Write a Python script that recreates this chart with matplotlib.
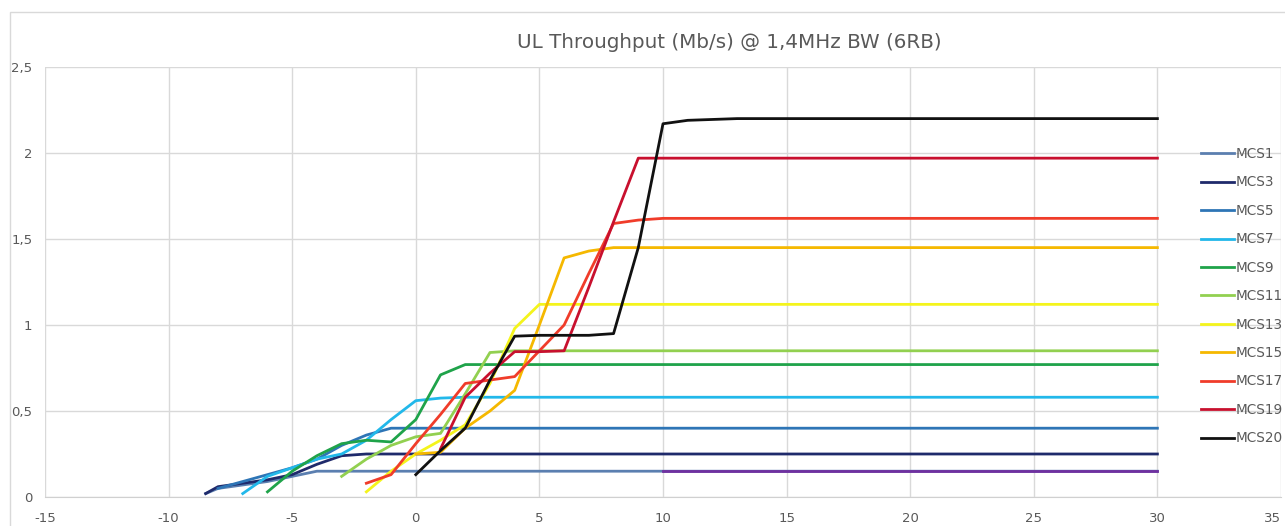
import matplotlib.pyplot as plt
from matplotlib.patches import Rectangle
from matplotlib.ticker import FuncFormatter

plt.rcParams["axes.unicode_minus"] = False

# SNR (dB) points and throughput (Mb/s) per MCS
x_mcs1 = [-8.5, -8, -7, -6, -5, -4, -3, 30]
y_mcs1 = [0.02, 0.05, 0.07, 0.09, 0.12, 0.15, 0.15, 0.15]

x_mcs3 = [-8.5, -8, -7, -6, -5, -4, -3, -2, 30]
y_mcs3 = [0.02, 0.06, 0.08, 0.10, 0.13, 0.19, 0.24, 0.25, 0.25]

x_mcs5 = [-8, -7, -6, -5, -4, -3, -2, -1, 30]
y_mcs5 = [0.05, 0.09, 0.13, 0.17, 0.22, 0.30, 0.36, 0.40, 0.40]

x_mcs7 = [-7, -6, -5, -4, -3, -2, -1, 0, 1, 2, 30]
y_mcs7 = [0.02, 0.12, 0.17, 0.22, 0.25, 0.33, 0.45, 0.56, 0.575, 0.58, 0.58]

x_mcs9 = [-6, -5, -4, -3, -2, -1, 0, 1, 2, 30]
y_mcs9 = [0.03, 0.15, 0.24, 0.31, 0.33, 0.32, 0.45, 0.71, 0.77, 0.77]

x_mcs11 = [-3, -2, -1, 0, 1, 2, 3, 4, 30]
y_mcs11 = [0.12, 0.22, 0.30, 0.35, 0.37, 0.60, 0.84, 0.85, 0.85]

x_mcs13 = [-2, -1, 0, 1, 2, 3, 4, 5, 30]
y_mcs13 = [0.03, 0.15, 0.25, 0.33, 0.42, 0.66, 0.98, 1.12, 1.12]

x_mcs15 = [0, 1, 2, 3, 4, 5, 6, 7, 8, 30]
y_mcs15 = [0.25, 0.26, 0.40, 0.50, 0.62, 1.00, 1.39, 1.43, 1.45, 1.45]

x_mcs17 = [-2, -1, 0, 1, 2, 3, 4, 5, 6, 7, 8, 9, 10, 30]
y_mcs17 = [0.08, 0.13, 0.31, 0.48, 0.66, 0.68, 0.70, 0.85, 1.00, 1.30, 1.59, 1.61, 1.62, 1.62]

x_mcs19 = [1, 2, 3, 4, 5, 6, 7, 8, 9, 30]
y_mcs19 = [0.28, 0.58, 0.72, 0.845, 0.845, 0.85, 1.22, 1.60, 1.97, 1.97]

x_mcs20 = [0, 1, 2, 3, 4, 5, 6, 7, 8, 9, 10, 11, 12, 13, 30]
y_mcs20 = [0.13, 0.27, 0.40, 0.68, 0.935, 0.94, 0.94, 0.94, 0.95, 1.45, 2.17, 2.19, 2.195, 2.2, 2.2]

# unlabeled series drawn over MCS1 on the right
x_extra = [10, 30]
y_extra = [0.15, 0.15]

series = [
    ("MCS1", x_mcs1, y_mcs1, "#5b7fb0"),
    ("MCS3", x_mcs3, y_mcs3, "#1f2a6b"),
    ("MCS5", x_mcs5, y_mcs5, "#2e75b6"),
    ("MCS7", x_mcs7, y_mcs7, "#22b8ea"),
    ("MCS9", x_mcs9, y_mcs9, "#1fa34a"),
    ("MCS11", x_mcs11, y_mcs11, "#92d050"),
    ("MCS13", x_mcs13, y_mcs13, "#f4f41c"),
    ("MCS15", x_mcs15, y_mcs15, "#f5b800"),
    ("MCS17", x_mcs17, y_mcs17, "#f03c2a"),
    ("MCS19", x_mcs19, y_mcs19, "#c8102e"),
    ("MCS20", x_mcs20, y_mcs20, "#111111"),
]

fig = plt.figure(figsize=(12.85, 5.26), dpi=100)
# axis spans -15..35, the right end runs to the figure edge like the original
ax = fig.add_axes([45 / 1285, 1 - 497 / 526, 1236 / 1285, 430 / 526])

for name, xs, ys, col in series:
    ax.plot(xs, ys, color=col, lw=2, label=name)
ax.plot(x_extra, y_extra, color="#7030a0", lw=2)

ax.set_xlim(-15, 35)
ax.set_ylim(0, 2.5)
ax.set_xticks(range(-15, 36, 5))
ax.set_yticks([0, 0.5, 1, 1.5, 2, 2.5])
ax.yaxis.set_major_formatter(FuncFormatter(lambda v, p: f"{v:g}".replace(".", ",")))
ax.grid(True, color="#d9d9d9", lw=1)
ax.set_axisbelow(True)
for s in ["top", "right", "left"]:
    ax.spines[s].set_visible(False)
ax.spines["bottom"].set_color("#d0d0d0")
ax.tick_params(length=0, labelsize=9.5, colors="#595959")
ax.tick_params(axis="x", pad=11)
ax.tick_params(axis="y", pad=9)

# last x label sits at the figure edge; keep it inside
fig.canvas.draw()
ax.get_xticklabels()[-1].set_horizontalalignment("right")

fig.text(729 / 1285, 1 - 42 / 526, "UL Throughput (Mb/s) @ 1,4MHz BW (6RB)",
         ha="center", va="center", fontsize=14.3, color="#595959")

ax.legend(loc="upper left", bbox_to_anchor=(1201 / 1285, 1 - 147 / 526),
          bbox_transform=fig.transFigure, frameon=False, fontsize=9.8,
          labelcolor="#595959", handlelength=2.4, handletextpad=0.15,
          labelspacing=1.06, borderpad=0, borderaxespad=0)

fig.patches.append(Rectangle((10 / 1285, -0.01), 1.0, 1 - 12 / 526 + 0.01,
                             transform=fig.transFigure, fill=False,
                             edgecolor="#d9d9d9", lw=1))

fig.savefig("out.png", dpi=100)
